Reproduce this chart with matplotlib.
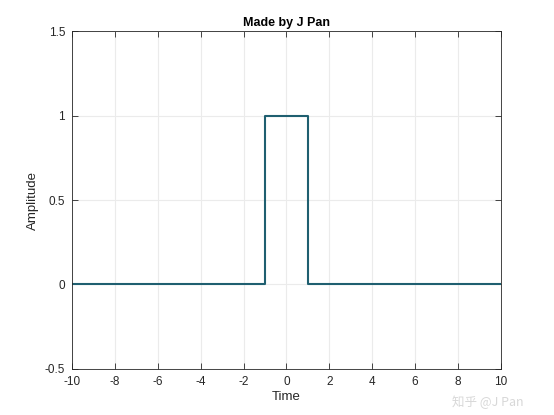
import matplotlib
matplotlib.use("Agg")
import matplotlib.pyplot as plt

plt.rcParams['font.family'] = ['Liberation Sans', 'DejaVu Sans']

t = [-10, -1, -1, 1, 1, 10]
amp = [0, 0, 1, 1, 0, 0]
xticks = [-10, -8, -6, -4, -2, 0, 2, 4, 6, 8, 10]
yticks = [-0.5, 0, 0.5, 1, 1.5]
ytick_labels = ['-0.5', '0', '0.5', '1', '1.5']

fig = plt.figure(figsize=(5.54, 4.15), dpi=100)
ax = fig.add_axes([0.130, 0.111, 0.774, 0.814])
ax.plot(t, amp, color='#1f5f70', linewidth=1.5)
ax.set_xlim(-10, 10)
ax.set_ylim(-0.5, 1.5)
ax.set_xticks(xticks)
ax.set_xticklabels([str(v) for v in xticks])
ax.set_yticks(yticks)
ax.set_yticklabels(ytick_labels)
ax.grid(True, color='#ebebeb', linewidth=0.8)
ax.set_axisbelow(True)
ax.tick_params(direction='in', top=True, right=True, length=4, width=0.6,
               labelsize=8.5, colors='#262626', pad=5)
for s in ax.spines.values():
    s.set_color('#262626')
    s.set_linewidth(0.6)
ax.set_title('Made by J Pan', fontsize=9, fontweight='bold', pad=4)
ax.set_xlabel('Time', fontsize=9.5, color='#262626', labelpad=2)
ax.set_ylabel('Amplitude', fontsize=9.5, color='#262626', labelpad=4)
fig.text(0.88, 0.03, '知乎 @J Pan', fontsize=9, color='#d8d8d8',
         family=['Noto Sans CJK SC', 'DejaVu Sans'], ha='center', va='center')
fig.savefig('out.png', dpi=100)
